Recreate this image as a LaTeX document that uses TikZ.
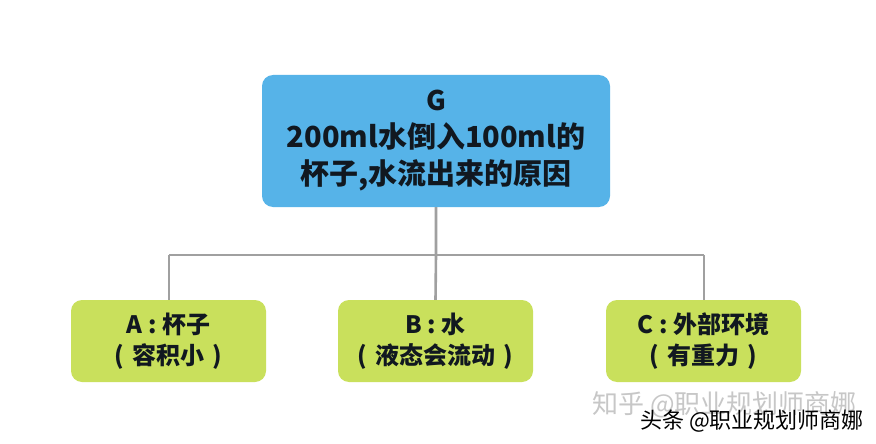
\documentclass[tikz,border=0pt]{standalone}
\usepackage{fontspec}
\setmainfont{Noto Sans CJK SC}
\usetikzlibrary{positioning}
\definecolor{topblue}{HTML}{56B3E8}
\definecolor{leafgreen}{HTML}{C9E05C}
\definecolor{txt}{HTML}{111820}
\definecolor{linegray}{HTML}{A0A0A0}
\tikzset{
  topbox/.style={fill=topblue, rounded corners=11pt, draw=none, minimum width=348pt, minimum height=132pt, align=center, text=txt, font=\bfseries\fontsize{29}{37}\selectfont, inner sep=0pt},
  leafbox/.style={fill=leafgreen, rounded corners=11pt, draw=none, minimum width=195pt, minimum height=82pt, align=center, text=txt, font=\bfseries\fontsize{24}{31}\selectfont, inner sep=0pt},
  conn/.style={draw=linegray, line width=2.6pt},
  wm/.style={inner sep=0pt, anchor=west}
}
\newcommand{\lp}{(\hspace{0.35em}}
\newcommand{\rp}{\hspace{0.35em})}
\begin{document}
\begin{tikzpicture}[x=1pt,y=-1pt]
\useasboundingbox[fill=white] (0,0) rectangle (876,444);
\node[topbox] (G) at (436,141) {{\fontsize{27}{37}\selectfont G}\\200ml水倒入100ml的\\杯子,水流出来的原因};
\node[leafbox] (A) at (168.5,341) {A : 杯子\\\lp 容积小\rp};
\node[leafbox] (B) at (435.5,341) {B : 水\\\lp 液态会流动\rp};
\node[leafbox] (C) at (703.5,341) {C : 外部环境\\\lp 有重力\rp};
\coordinate (J) at (436,255);
\coordinate (JA) at (169,255);
\coordinate (JC) at (704,255);
\draw[conn] (G.south) -- (J) -- (B.north);
\draw[conn] (JA) -- (JC);
\draw[conn] (JA) -- (JA |- A.north);
\draw[conn] (JC) -- (JC |- C.north);
\node[wm, text=black!22, font=\fontsize{26}{26}\selectfont] (W1) at (592,405) {知乎 @职业规划师商娜};
\node[wm, text=black, font=\fontsize{22}{22}\selectfont] (W2) at (640,421) {头条 @职业规划师商娜};
\end{tikzpicture}
\end{document}
